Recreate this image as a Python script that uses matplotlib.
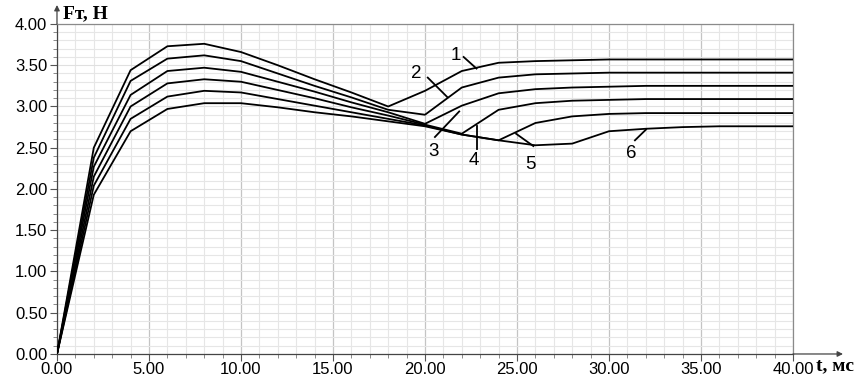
import matplotlib
matplotlib.use("Agg")
import matplotlib.pyplot as plt
from matplotlib.ticker import MultipleLocator, FormatStrFormatter

# time, ms (vertices every 2 ms)
t_ms = [0, 2, 4, 6, 8, 10, 12, 14, 16, 18, 20, 22, 24, 26, 28, 30, 32, 34, 36, 38, 40]

# Fт, Н for curves 1..6
f_1 = [0, 2.50, 3.44, 3.73, 3.76, 3.66, 3.50, 3.33, 3.17, 3.00, 3.19, 3.43, 3.53, 3.55, 3.56, 3.57, 3.57, 3.57, 3.57, 3.57, 3.57]
f_2 = [0, 2.38, 3.31, 3.58, 3.62, 3.55, 3.40, 3.25, 3.11, 2.96, 2.90, 3.23, 3.35, 3.39, 3.40, 3.41, 3.41, 3.41, 3.41, 3.41, 3.41]
f_3 = [0, 2.27, 3.14, 3.43, 3.47, 3.42, 3.30, 3.18, 3.05, 2.93, 2.79, 3.01, 3.16, 3.21, 3.23, 3.24, 3.25, 3.25, 3.25, 3.25, 3.25]
f_4 = [0, 2.15, 3.00, 3.28, 3.33, 3.30, 3.20, 3.10, 2.99, 2.89, 2.78, 2.67, 2.96, 3.04, 3.07, 3.08, 3.09, 3.09, 3.09, 3.09, 3.09]
f_5 = [0, 2.04, 2.85, 3.12, 3.19, 3.17, 3.09, 3.01, 2.93, 2.85, 2.77, 2.66, 2.59, 2.80, 2.88, 2.91, 2.92, 2.92, 2.92, 2.92, 2.92]
f_6 = [0, 1.93, 2.70, 2.97, 3.04, 3.04, 2.99, 2.93, 2.88, 2.82, 2.76, 2.66, 2.59, 2.53, 2.55, 2.70, 2.73, 2.75, 2.76, 2.76, 2.76]
curves = [f_1, f_2, f_3, f_4, f_5, f_6]

# curve number labels: (text x, text y), leader line start/end
labels = ["1", "2", "3", "4", "5", "6"]
label_xy = [(21.7, 3.62), (19.55, 3.40), (20.45, 2.45), (22.66, 2.35), (25.74, 2.30), (31.23, 2.43)]
leader_from = [(22.1, 3.60), (20.15, 3.35), (20.54, 2.63), (22.81, 2.76), (24.95, 2.67), (31.41, 2.59)]
leader_to = [(22.8, 3.46), (21.23, 3.11), (21.86, 2.94), (22.81, 2.49), (25.89, 2.52), (32.01, 2.72)]

fig = plt.figure(figsize=(8.66, 3.79), dpi=100)
ax = fig.add_axes([0.0658, 0.066, 0.8499, 0.8707])

for f in curves:
    ax.plot(t_ms, f, color="black", lw=1.3, zorder=3)

for lab, xy, p0, p1 in zip(labels, label_xy, leader_from, leader_to):
    ax.text(xy[0], xy[1], lab, fontsize=13.5, family="Liberation Sans",
            ha="center", va="center", zorder=4)
    ax.plot([p0[0], p1[0]], [p0[1], p1[1]], color="black", lw=1.3, zorder=4)

ax.set_xlim(0, 40)
ax.set_ylim(0, 4)
ax.xaxis.set_major_locator(MultipleLocator(5))
ax.xaxis.set_minor_locator(MultipleLocator(1))
ax.yaxis.set_major_locator(MultipleLocator(0.5))
ax.yaxis.set_minor_locator(MultipleLocator(0.1))
ax.xaxis.set_major_formatter(FormatStrFormatter("%.2f"))
ax.yaxis.set_major_formatter(FormatStrFormatter("%.2f"))

ax.grid(which="minor", color="#e6e6e6", lw=0.8, zorder=0)
ax.grid(which="major", axis="y", color="#e0e0e0", lw=0.8, zorder=0)
ax.grid(which="major", axis="x", color="#c4c4c4", lw=0.9, zorder=0)
ax.set_axisbelow(True)

for lab in ax.get_xticklabels() + ax.get_yticklabels():
    lab.set_family("Liberation Sans")
ax.tick_params(which="major", length=5, width=0.8, labelsize=12, color="#555555")
ax.tick_params(which="minor", length=3, width=0.6, color="#777777")
ax.tick_params(axis="x", pad=1)
ax.tick_params(axis="y", pad=2)

for side in ["top", "right"]:
    ax.spines[side].set_color("#8a8a8a")
    ax.spines[side].set_linewidth(0.9)
for side in ["left", "bottom"]:
    ax.spines[side].set_color("#444444")
    ax.spines[side].set_linewidth(0.9)

# axis arrows
ax.annotate("", xy=(1.0 + 50 / 736, 0), xycoords="axes fraction",
            xytext=(1.0, 0), arrowprops=dict(arrowstyle="-|>", color="#444444", lw=0.9,
                                              mutation_scale=8, shrinkA=0, shrinkB=0))
ax.annotate("", xy=(0, 1.0 + 19 / 330), xycoords="axes fraction",
            xytext=(0, 1.0), arrowprops=dict(arrowstyle="-|>", color="#444444", lw=0.9,
                                              mutation_scale=8, shrinkA=0, shrinkB=0))

fig.text(63 / 866, 1 - 14 / 379, "Fт, Н", fontsize=14, fontweight="bold",
         family="Liberation Serif", ha="left", va="center")
fig.text(816 / 866, 1 - 366 / 379, "t, мс", fontsize=14, fontweight="bold",
         family="Liberation Serif", ha="left", va="center")

fig.savefig("out.png", dpi=100)
